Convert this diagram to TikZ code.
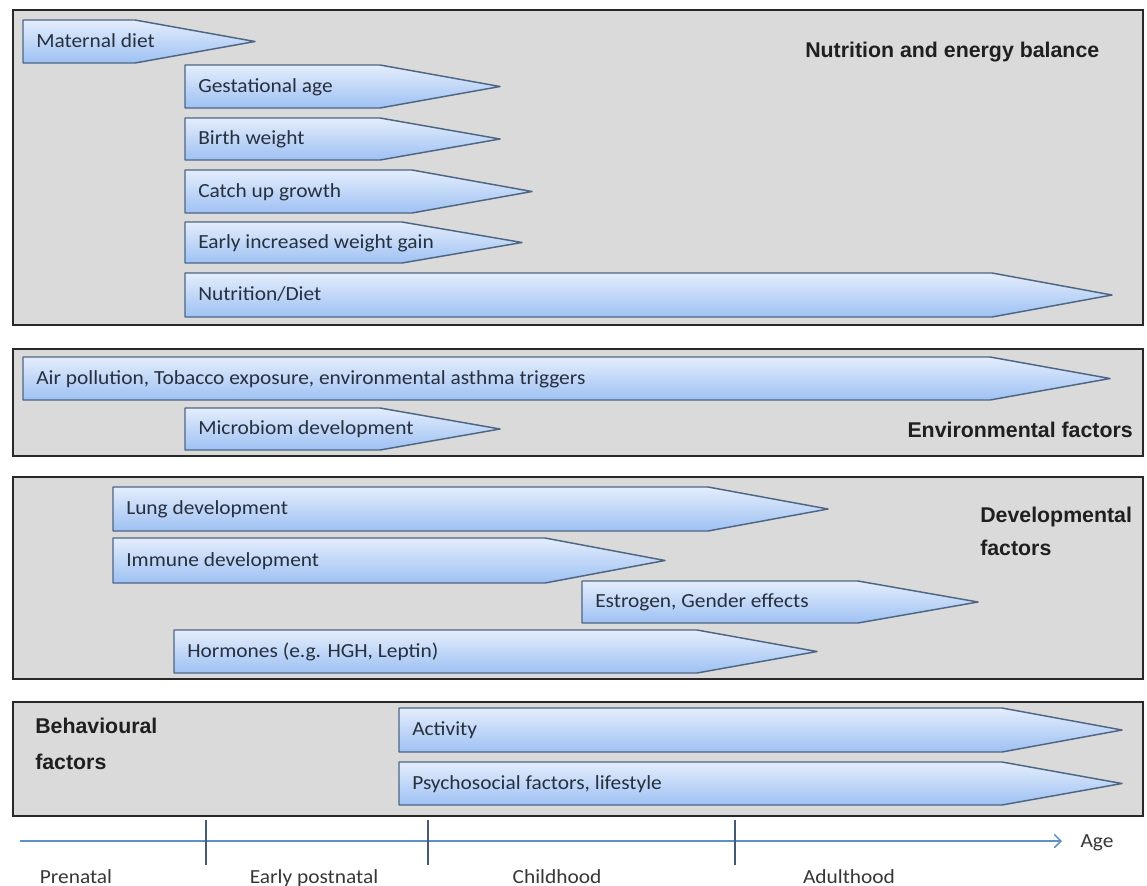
\documentclass[tikz,border=0pt]{standalone}
\usepackage{fontspec}
\setmainfont{Carlito}[FakeStretch=1.07]
\newfontfamily\labfont{Liberation Sans}
\usetikzlibrary{arrows.meta}
\definecolor{panelfill}{RGB}{218,218,218}
\definecolor{panelline}{RGB}{40,40,40}
\definecolor{arrline}{RGB}{78,102,132}
\definecolor{arrtop}{RGB}{228,237,252}
\definecolor{arrbot}{RGB}{158,193,243}
\definecolor{axisblue}{RGB}{95,145,200}
\definecolor{tickcol}{RGB}{70,90,120}
\definecolor{txtcol}{RGB}{38,48,62}
\definecolor{axtxt}{RGB}{55,55,55}
\tikzset{
  panel/.style={fill=panelfill, draw=panelline, line width=1.8pt},
  arrowbody/.style={draw=arrline, line width=1.1pt, top color=arrtop, bottom color=arrbot, line join=round},
  arrowtext/.style={inner sep=0pt, text=txtcol, font=\fontsize{15}{18}\selectfont},
  boldlab/.style={inner sep=0pt, text=black!88, font=\labfont\bfseries\fontsize{16}{20}\selectfont},
  axislab/.style={inner sep=0pt, text=axtxt, font=\fontsize{15}{18}\selectfont},
  axisline/.style={draw=axisblue, line width=1.1pt},
  tickline/.style={draw=tickcol, line width=0.8pt}
}
% name, left, top, bottom, tip, text
\newcommand\barr[6]{%
  \draw[arrowbody] (#2,#3) -- ({#5-120},#3) -- (#5,{(#3+#4)/2}) -- ({#5-120},#4) -- (#2,#4) -- cycle;
  \node[arrowtext, anchor=base west] (#1) at ({#2+13},{(#3+#4)/2+5.5}) {#6};
}
\begin{document}
\begin{tikzpicture}[x=0.75pt, y=-0.75pt]
\useasboundingbox (0,0) rectangle (1147,886);
\fill[white] (0,0) rectangle (1147,886);

% panels
\draw[panel] (13,10) rectangle (1143,325);
\draw[panel] (13,349) rectangle (1143,456);
\draw[panel] (13,477) rectangle (1143,679);
\draw[panel] (13,702) rectangle (1143,816);

% nutrition
\barr{maternal}{23}{20}{63}{255}{Maternal diet}
\barr{gest}{185}{65}{108}{500}{Gestational age}
\barr{birth}{185}{118}{160}{500}{Birth weight}
\barr{catch}{185}{170}{213}{532}{Catch up growth}
\barr{early}{185}{222}{263}{522}{Early increased weight gain}
\barr{nutr}{185}{273}{317}{1112}{Nutrition/Diet}
\node[boldlab, anchor=base west] (nutrlab) at (805,57) {Nutrition and energy balance};

% environmental
\barr{air}{23}{357}{400}{1110}{Air pollution, Tobacco exposure, environmental asthma triggers}
\barr{micro}{185}{408}{450}{500}{Microbiom development}
\node[boldlab, anchor=base east] (envlab) at (1133,437) {Environmental factors};

% developmental
\barr{lung}{113}{487}{531}{828}{Lung development}
\barr{immune}{113}{538}{583}{665}{Immune development}
\barr{estro}{582}{581}{623}{978}{Estrogen, Gender effects}
\barr{horm}{174}{630}{673}{817}{Hormones (e.g. HGH, Leptin)}
\node[boldlab, anchor=base west] (devlabA) at (980,522) {Developmental};
\node[boldlab, anchor=base west] (devlabB) at (980,555) {factors};

% behavioural
\barr{activity}{399}{708}{752}{1122}{Activity}
\barr{psych}{399}{762}{805}{1122}{Psychosocial factors, lifestyle}
\node[boldlab, anchor=base west] (behlabA) at (35,733) {Behavioural};
\node[boldlab, anchor=base west] (behlabB) at (35,769) {factors};

% axis
\coordinate (axs) at (20,841);
\coordinate (axe) at (1062,841);
\draw[axisline, -{Straight Barb[length=5pt, width=10pt, line width=1.1pt]}] (axs) -- (axe);
\node[axislab, anchor=base] (age) at (1097,847) {Age};
\coordinate (t1a) at (206,820); \coordinate (t1b) at (206,865);
\coordinate (t2a) at (428,820); \coordinate (t2b) at (428,865);
\coordinate (t3a) at (735,820); \coordinate (t3b) at (735,865);
\draw[tickline] (t1a) -- (t1b);
\draw[tickline] (t2a) -- (t2b);
\draw[tickline] (t3a) -- (t3b);
\node[axislab, anchor=base] (pre) at (76,883) {Prenatal};
\node[axislab, anchor=base] (epost) at (314,883) {Early postnatal};
\node[axislab, anchor=base] (child) at (557,883) {Childhood};
\node[axislab, anchor=base] (adult) at (849,883) {Adulthood};
\end{tikzpicture}
\end{document}
